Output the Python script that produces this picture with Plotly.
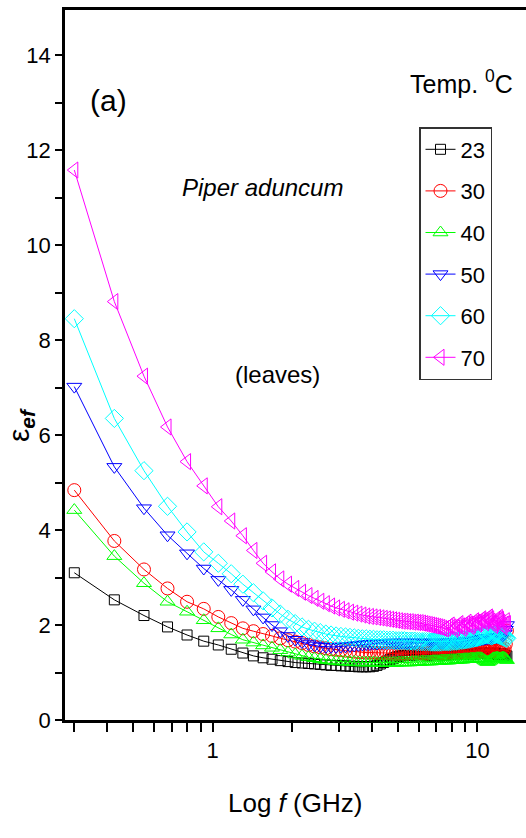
import plotly.graph_objects as go

# ---------------- data ----------------
freq_ghz = [
    0.3, 0.425, 0.55, 0.675, 0.8, 0.925, 1.05, 1.175, 1.3, 1.425,
    1.55, 1.675, 1.8, 1.925, 2.05, 2.175, 2.3, 2.425, 2.55, 2.675,
    2.8, 2.925, 3.05, 3.175, 3.3, 3.425, 3.55, 3.675, 3.8, 3.925,
    4.05, 4.175, 4.3, 4.425, 4.55, 4.675, 4.8, 4.925, 5.05, 5.175,
    5.3, 5.425, 5.55, 5.675, 5.8, 5.925, 6.05, 6.175, 6.3, 6.425,
    6.55, 6.675, 6.8, 6.925, 7.05, 7.175, 7.3, 7.425, 7.55, 7.675,
    7.8, 7.925, 8.05, 8.175, 8.3, 8.425, 8.55, 8.675, 8.8, 8.925,
    9.05, 9.175, 9.3, 9.425, 9.55, 9.675, 9.8, 9.925, 10.05, 10.175,
    10.3, 10.425, 10.55, 10.675, 10.8, 10.925, 11.05, 11.175, 11.3, 11.425,
    11.55, 11.675, 11.8, 11.925, 12.05, 12.175, 12.3, 12.425, 12.55, 12.675,
    12.8, 12.925,
]

eps_23 = [
    3.10, 2.53, 2.20, 1.96, 1.79, 1.66, 1.58, 1.49, 1.41, 1.35,
    1.31, 1.28, 1.25, 1.23, 1.21, 1.20, 1.19, 1.18, 1.17, 1.16,
    1.15, 1.15, 1.14, 1.14, 1.13, 1.13, 1.12, 1.12, 1.12, 1.12,
    1.13, 1.15, 1.18, 1.21, 1.24, 1.27, 1.30, 1.32, 1.34, 1.35,
    1.36, 1.36, 1.37, 1.37, 1.37, 1.38, 1.38, 1.38, 1.38, 1.37,
    1.37, 1.37, 1.38, 1.38, 1.38, 1.38, 1.38, 1.37, 1.37, 1.37,
    1.38, 1.38, 1.38, 1.38, 1.39, 1.39, 1.39, 1.38, 1.38, 1.38,
    1.39, 1.39, 1.40, 1.40, 1.40, 1.39, 1.39, 1.40, 1.41, 1.41,
    1.40, 1.40, 1.40, 1.41, 1.42, 1.42, 1.41, 1.40, 1.40, 1.41,
    1.41, 1.40, 1.39, 1.38, 1.38, 1.39, 1.40, 1.39, 1.37, 1.36,
    1.35, 1.35,
]

eps_30 = [
    4.84, 3.77, 3.17, 2.77, 2.49, 2.34, 2.17, 2.04, 1.93, 1.87,
    1.81, 1.77, 1.72, 1.68, 1.65, 1.62, 1.58, 1.55, 1.53, 1.51,
    1.49, 1.48, 1.47, 1.46, 1.45, 1.44, 1.43, 1.43, 1.42, 1.42,
    1.42, 1.41, 1.41, 1.41, 1.41, 1.40, 1.40, 1.40, 1.40, 1.40,
    1.40, 1.40, 1.40, 1.41, 1.41, 1.41, 1.41, 1.40, 1.40, 1.40,
    1.41, 1.41, 1.41, 1.41, 1.42, 1.42, 1.41, 1.41, 1.41, 1.42,
    1.42, 1.42, 1.42, 1.43, 1.43, 1.42, 1.42, 1.43, 1.43, 1.43,
    1.44, 1.44, 1.43, 1.43, 1.44, 1.44, 1.45, 1.45, 1.44, 1.44,
    1.45, 1.45, 1.46, 1.46, 1.45, 1.45, 1.46, 1.47, 1.46, 1.45,
    1.46, 1.47, 1.47, 1.46, 1.46, 1.47, 1.48, 1.48, 1.47, 1.50,
    1.60, 1.88,
]

eps_40 = [
    4.42, 3.45, 2.88, 2.49, 2.28, 2.10, 1.93, 1.80, 1.69, 1.63,
    1.57, 1.52, 1.47, 1.42, 1.38, 1.35, 1.32, 1.30, 1.28, 1.26,
    1.25, 1.24, 1.23, 1.23, 1.22, 1.22, 1.21, 1.21, 1.21, 1.21,
    1.21, 1.20, 1.20, 1.20, 1.20, 1.20, 1.20, 1.20, 1.21, 1.21,
    1.21, 1.21, 1.21, 1.22, 1.22, 1.22, 1.22, 1.23, 1.23, 1.23,
    1.23, 1.23, 1.24, 1.24, 1.24, 1.24, 1.25, 1.25, 1.25, 1.25,
    1.25, 1.26, 1.26, 1.26, 1.26, 1.27, 1.27, 1.27, 1.27, 1.28,
    1.28, 1.28, 1.28, 1.29, 1.29, 1.29, 1.29, 1.30, 1.30, 1.30,
    1.30, 1.29, 1.27, 1.25, 1.23, 1.22, 1.23, 1.25, 1.27, 1.29,
    1.30, 1.30, 1.31, 1.31, 1.30, 1.29, 1.30, 1.31, 1.31, 1.30,
    1.28, 1.26,
]

eps_50 = [
    7.02, 5.33, 4.46, 3.89, 3.51, 3.19, 2.95, 2.74, 2.53, 2.33,
    2.16, 2.00, 1.87, 1.77, 1.69, 1.64, 1.60, 1.57, 1.55, 1.54,
    1.54, 1.54, 1.55, 1.55, 1.56, 1.57, 1.58, 1.59, 1.60, 1.60,
    1.61, 1.61, 1.62, 1.62, 1.62, 1.63, 1.63, 1.63, 1.63, 1.63,
    1.63, 1.63, 1.63, 1.63, 1.63, 1.63, 1.63, 1.63, 1.63, 1.63,
    1.63, 1.63, 1.63, 1.63, 1.63, 1.63, 1.63, 1.63, 1.63, 1.63,
    1.64, 1.64, 1.64, 1.64, 1.64, 1.65, 1.65, 1.65, 1.65, 1.66,
    1.66, 1.66, 1.67, 1.67, 1.67, 1.68, 1.68, 1.69, 1.69, 1.70,
    1.70, 1.71, 1.71, 1.72, 1.72, 1.73, 1.73, 1.73, 1.73, 1.73,
    1.74, 1.74, 1.75, 1.75, 1.75, 1.75, 1.76, 1.77, 1.79, 1.82,
    1.90, 2.00,
]

eps_60 = [
    8.45, 6.35, 5.25, 4.50, 3.96, 3.54, 3.30, 3.08, 2.86, 2.68,
    2.51, 2.36, 2.23, 2.12, 2.03, 1.96, 1.91, 1.87, 1.84, 1.81,
    1.79, 1.77, 1.76, 1.75, 1.74, 1.73, 1.72, 1.71, 1.71, 1.70,
    1.70, 1.69, 1.69, 1.69, 1.68, 1.68, 1.68, 1.67, 1.67, 1.67,
    1.67, 1.66, 1.66, 1.66, 1.66, 1.65, 1.65, 1.65, 1.65, 1.65,
    1.65, 1.64, 1.64, 1.64, 1.64, 1.64, 1.64, 1.65, 1.65, 1.65,
    1.65, 1.65, 1.66, 1.66, 1.66, 1.67, 1.67, 1.68, 1.68, 1.69,
    1.69, 1.70, 1.70, 1.71, 1.72, 1.72, 1.73, 1.74, 1.74, 1.75,
    1.76, 1.77, 1.78, 1.79, 1.80, 1.80, 1.79, 1.78, 1.77, 1.78,
    1.79, 1.80, 1.81, 1.80, 1.79, 1.78, 1.77, 1.76, 1.75, 1.74,
    1.73, 1.72,
]

eps_70 = [
    11.58, 8.81, 7.24, 6.17, 5.44, 4.93, 4.49, 4.19, 3.88, 3.57,
    3.30, 3.12, 2.97, 2.86, 2.77, 2.69, 2.62, 2.56, 2.50, 2.45,
    2.40, 2.36, 2.33, 2.30, 2.27, 2.25, 2.23, 2.21, 2.19, 2.18,
    2.17, 2.16, 2.15, 2.14, 2.13, 2.12, 2.11, 2.10, 2.09, 2.08,
    2.08, 2.07, 2.07, 2.06, 2.06, 2.05, 2.05, 2.04, 2.03, 2.02,
    2.01, 2.00, 1.99, 1.98, 1.97, 1.96, 1.95, 1.93, 1.92, 1.94,
    1.97, 2.00, 1.96, 1.91, 1.94, 1.99, 2.03, 1.98, 1.93, 1.97,
    2.02, 2.06, 2.02, 1.97, 2.00, 2.05, 2.09, 2.06, 2.02, 2.05,
    2.10, 2.13, 2.09, 2.05, 2.09, 2.14, 2.17, 2.13, 2.08, 2.04,
    1.99, 2.03, 2.08, 2.12, 2.16, 2.12, 2.06, 2.00, 1.96, 2.02,
    2.09, 2.03,
]

temps = ["23", "30", "40", "50", "60", "70"]
series = [eps_23, eps_30, eps_40, eps_50, eps_60, eps_70]

x_tickvals = [1, 10]
x_ticktext = ["1", "10"]
x_minor_vals = [0.3, 0.4, 0.5, 0.6, 0.7, 0.8, 0.9, 2, 3, 4, 5, 6, 7, 8, 9]
y_tickvals = [0, 2, 4, 6, 8, 10, 12, 14]
y_ticktext = ["0", "2", "4", "6", "8", "10", "12", "14"]

# ---------------- styles ----------------
colors = ["#000000", "#FF0000", "#00FF00", "#0000FF", "#00FFFF", "#FF00FF"]
symbols = ["square-open", "circle-open", "triangle-up-open",
           "triangle-down-open", "diamond-open", "triangle-left-open"]
msizes = [10, 13, 13, 13, 14, 14]
FONT = "Liberation Sans Narrow, Arial Narrow, Liberation Sans, Arial, sans-serif"

W, H = 526, 838
ML, MR, MT, MB = 65, 0, 10, 118
PW, PH = W - ML - MR, H - MT - MB


def px(xp):
    return (xp - ML) / PW


def py(yp):
    return (H - MB - yp) / PH


fig = go.Figure()
for name, vals, c, s, ms in zip(temps, series, colors, symbols, msizes):
    fig.add_trace(go.Scatter(
        x=freq_ghz, y=vals, name=name, mode="lines+markers",
        legendgroup=name,
        line=dict(color=c, width=1),
        marker=dict(symbol=s, size=ms, color=c, line=dict(color=c, width=1)),
    ))

fig.update_layout(
    width=W, height=H,
    margin=dict(l=ML, r=MR, t=MT, b=MB),
    paper_bgcolor="white", plot_bgcolor="white",
    font=dict(family=FONT, color="black", size=22),
    showlegend=True,
    legend=dict(
        x=px(419), y=py(127), xanchor="left", yanchor="top",
        bordercolor="#333333", borderwidth=1.5, bgcolor="white",
        font=dict(family=FONT, size=22, color="black"),
        tracegroupgap=10, itemwidth=30,
    ),
    xaxis=dict(
        type="log", range=[-0.558, 1.1836],
        tickmode="array", tickvals=x_tickvals, ticktext=x_ticktext, tickangle=0,
        ticks="outside", ticklen=9, tickwidth=1.5, tickcolor="black",
        minor=dict(tickmode="array", tickvals=x_minor_vals, ticks="outside",
                   ticklen=9, tickwidth=1.5, tickcolor="black", showgrid=False),
        showline=True, linecolor="black", linewidth=2.5, mirror=True,
        showgrid=False, zeroline=False,
        tickfont=dict(family=FONT, size=22, color="black"),
    ),
    yaxis=dict(
        range=[0, 14.95],
        tickmode="array", tickvals=y_tickvals, ticktext=y_ticktext,
        ticks="outside", ticklen=7, tickwidth=2, tickcolor="black",
        minor=dict(dtick=1, ticks="outside", ticklen=7, tickwidth=2, tickcolor="black"),
        showline=True, linecolor="black", linewidth=2.5,
        showgrid=False, zeroline=False,
        tickfont=dict(family=FONT, size=22, color="black"),
    ),
)

ann = [
    dict(text="(a)", x=px(108), y=py(100), size=30),
    dict(text="<i>Piper aduncum</i>", x=px(262), y=py(187), size=24),
    dict(text="(leaves)", x=px(277), y=py(374), size=24),
    dict(text="Temp. <sup>0</sup>C", x=px(461), y=py(82), size=25),
    dict(text="Log <i>f</i> (GHz)", x=px(295), y=py(803), size=26),
]
for a in ann:
    fig.add_annotation(text=a["text"], x=a["x"], y=a["y"], xref="paper", yref="paper",
                       xanchor="center", yanchor="middle", showarrow=False,
                       font=dict(family=FONT, size=a["size"], color="black"))

fig.add_annotation(text="ε<sub><b><i>ef</i></b></sub>", x=px(20), y=py(425),
                   xref="paper", yref="paper", xanchor="center", yanchor="middle",
                   textangle=-90, showarrow=False,
                   font=dict(family=FONT, size=30, color="black"))

fig.write_html("out.html")
